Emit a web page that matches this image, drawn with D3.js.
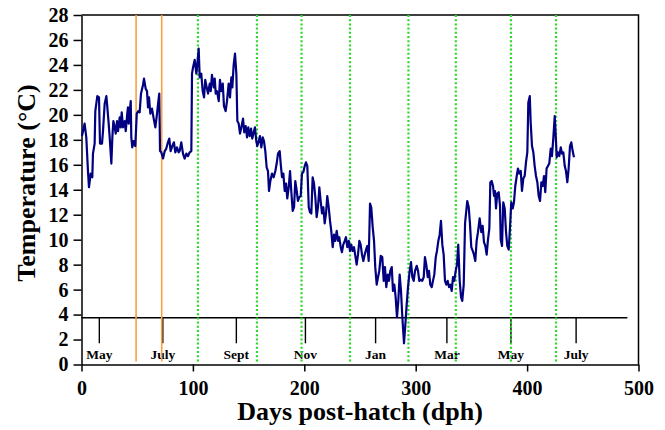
<!DOCTYPE html>
<html lang="en">

<head>
	<meta charset="utf-8">
	<style>
		body {
			margin: 0;
			background-color: white;
		}

		svg {
			font-family: 'Liberation Serif', 'Times New Roman', serif;
			font-weight: bold;
		}

		.axis path,
		.axis line {
			stroke: black;
			stroke-width: 1.5px;
		}

		.axis text {
			font-size: 20px;
			font-weight: bold;
			font-family: 'Liberation Serif', serif;
			fill: black;
		}

		.temp-line {
			fill: none;
			stroke: #000080;
			stroke-width: 2.2px;
			stroke-linejoin: round;
		}

		.orange-line {
			stroke: #f7a040;
			stroke-width: 1.6px;
		}

		.green-line {
			stroke: #2ad82a;
			stroke-width: 2.2px;
			stroke-dasharray: 2, 2.2;
		}

		.month-line {
			stroke: black;
			stroke-width: 1.4px;
		}

		.month-label {
			font-size: 13.5px;
		}

		.axis-title {
			font-size: 26px;
		}
	</style>
</head>

<body>
	<svg width=665 height=430></svg>
	<script src="https://d3js.org/d3.v7.min.js"></script>
	<script>
		// daily temperature
		const days = [
			0.4, 2.8, 4.3, 5.8, 6.7, 8.2, 9.7, 10.3, 11.8, 12.4, 14.2, 15.7, 16.6, 18.4, 19.3, 20.8, 22.3, 23.2, 24.4, 25.3,
			26.8, 27.7, 28.6, 29.8, 30.7, 31.9, 32.8, 34.3, 35.2, 36.1, 37.3, 38.8, 39.7, 41.1, 41.7, 42.4, 43.3, 44.2, 44.7, 45.6,
			46.8, 48.3, 49.6, 51, 52.2, 53.4, 55.2, 56.1, 57.6, 58.8, 59.7, 60.6, 61.8, 63.3, 64.8, 66.3, 67.8, 69, 69.8, 70.5,
			71.6, 73.2, 74.7, 76.1, 77.6, 78.8, 80, 81.5, 83, 84.2, 85.7, 87.2,
			88.1, 89.6, 91.1, 92.6, 94.1, 95.6, 97.1, 98.6, 99.2, 100.1, 101.6, 103.1, 104, 105.2, 106.1, 107.5, 108.8, 110,
			111.1, 112.4, 113.6, 115.1, 116, 117.1, 118.7, 119.6, 120.5, 121.6, 123.2, 124.3, 125.5, 126.8, 127.9, 129.4, 130.6, 132.1,
			133.3, 134.5, 135.4, 136.6, 137.8, 139, 139.9, 141.1, 142.3, 143.5, 145, 146.1, 147.4, 148.6, 149.7, 151, 152.2, 153.3,
			154.6, 155.7, 156.9, 157.8, 159.1, 160.2, 161.4, 162.7, 163.8, 165, 166.2, 167.4, 168.3, 169.5, 171, 172.5, 174, 175.2,
			176.4, 177.9,
			178.8, 180, 181.2, 182.4, 183.6, 184.7, 186, 187.2, 188.3, 189.6, 190.8, 191.9, 193.2, 194.3, 195.5, 196.8, 197.9, 199.1,
			200.4, 201.5, 202.7, 204, 205.1, 206.3, 207.5, 208.7, 209.9, 211.1, 212.3, 213.5, 214.7, 215.9, 217.1, 218.3, 219.5, 220.6,
			221.9, 223.1, 224.2, 225.5, 226.7, 227.8, 229.1, 230.3, 231.4, 232.7, 233.8, 235, 236.3, 237.4, 238.6, 239.9, 241, 242.2,
			243.4, 244.6, 245.8, 247, 248.2, 249.4, 250.6, 251.8, 253, 254.2, 255.4, 256.6, 257.8, 259, 260.1, 261.4, 262.6, 263.7, 265,
			266.2, 267.3, 268.6, 270, 271.3, 272.4, 273.6, 274.9, 276, 277.2, 278.5, 279.6, 280.8, 282, 283.2, 284.4, 285.6, 286.8,
			288, 289.5, 290.7, 291.9, 293.1, 294.6, 295.8, 297, 298.2, 299.4, 300.9, 302.1, 303.2, 304.5, 305.9, 307.2, 308.3, 309.5,
			310.8, 311.9, 313.1, 314.4, 315.5, 316.7, 318, 319.1, 320.3, 321.5, 322.7, 323.9, 325.1, 326.3, 327.5, 328.7, 329.9, 331.1,
			332.3, 333.5, 334.6, 335.9, 337.1, 338.2, 339.5, 340.7, 341.8, 343.1, 344.3, 345.4, 346.3, 347.6, 348.7, 349.9, 351.2, 352.3,
			353.5, 354.7,
			355.9, 357.4, 358.9, 360.1, 361.3, 362.5, 363.7, 364.9, 366.1, 367, 368.2, 369.4, 370.3, 371.2, 372.1, 373.2, 374.5, 375.7,
			376.3, 377.5, 378.6, 379.9, 381.1, 382.2, 383.5, 384.6, 385.8, 387.1, 388.2, 389.4, 390.7, 391.8, 393, 394.3, 395.4, 396.6,
			397.8, 399, 400.2, 401.1, 402.4, 403.2, 404.4, 405.6, 406.8, 408, 409.2, 410.4, 411.6, 412.8, 414, 415.2, 416.3, 417.5,
			418.7, 419.9, 421.2, 422.3, 423.5, 424.8, 425.7, 426.6, 427.7, 428.9, 430.2, 431.3, 432.5, 433.8, 434.9, 436.1, 437.3, 438.5,
			439.7, 440.9, 442.1
		]
		const temps = [
			18.3, 19.3, 18.2, 15.5, 14.2, 15.3, 15.0, 16.9, 17.7, 20.3, 21.5, 21.4, 17.7, 17.7, 18.7, 20.9, 21.5, 20.6, 19.3, 18.2,
			16.1, 18.2, 19.5, 19.0, 18.5, 19.5, 18.7, 19.8, 19.0, 20.2, 19.0, 19.5, 18.7, 20.1, 20.6, 19.3, 20.3, 21.1, 18.2, 17.4,
			17.9, 17.5, 20.1, 20.3, 20.2, 21.7, 22.4, 22.9, 22.1, 21.9, 20.6, 21.4, 20.1, 20.5, 19.7, 19.0, 20.1, 21.1, 21.7, 17.1,
			17.0, 16.5, 17.1, 17.3, 17.8, 18.1, 17.1, 17.5, 17.8, 17.0, 17.4, 17.0,
			17.1, 17.8, 16.9, 16.5, 16.9, 16.7, 17.0, 17.1, 23.3, 23.8, 24.4, 23.3, 24.1, 25.3, 23.0, 23.3, 21.9, 21.4,
			22.8, 22.2, 21.7, 22.5, 21.9, 23.2, 22.2, 22.9, 21.7, 21.9, 21.1, 22.8, 21.9, 22.5, 20.7, 20.3, 21.1, 22.5,
			21.4, 23.0, 22.2, 24.0, 24.9, 23.3, 19.5, 19.3, 18.5, 19.0, 19.7, 18.6, 19.1, 18.2, 19.0, 18.3, 18.9, 18.1,
			18.6, 19.0, 17.9, 17.5, 17.9, 18.3, 17.4, 18.2, 17.9, 17.1, 15.8, 15.5, 13.9, 14.7, 15.3, 15.0, 15.5, 16.1,
			16.9, 17.1,
			16.1, 15.0, 15.3, 13.9, 14.5, 13.3, 14.2, 15.5, 13.9, 12.3, 12.6, 14.7, 13.9, 13.1, 13.4, 13.5, 15.3, 15.4,
			15.9, 16.2, 15.9, 12.6, 12.2, 12.1, 15.0, 14.5, 13.4, 11.8, 12.6, 14.2, 13.1, 12.1, 12.6, 11.3, 12.1, 13.5,
			12.6, 11.5, 10.7, 9.4, 10.4, 9.9, 10.7, 9.9, 10.2, 9.4, 9.0, 9.6, 9.9, 10.2, 9.4, 9.9, 9.1, 9.6,
			9.1, 9.4, 8.7, 8.0, 8.8, 9.9, 9.6, 8.8, 8.3, 8.8, 9.2, 9.5, 8.3, 12.9, 12.6, 11.0, 9.9, 7.8, 6.4,
			7.0, 7.5, 8.7, 8.6, 6.7, 7.8, 6.2, 7.2, 6.7, 7.5, 7.8, 5.9, 6.4, 5.4, 3.8, 5.1, 7.2, 5.9,
			3.8, 1.7, 3.2, 4.8, 6.2, 7.5, 8.2, 7.0, 6.7, 7.5, 7.9, 7.5, 6.7, 6.8, 6.7, 7.0, 8.6, 8.0,
			7.0, 7.5, 6.4, 6.2, 6.7, 7.2, 8.6, 9.1, 9.9, 10.4, 11.5, 9.6, 8.8, 6.7, 6.4, 6.7, 6.2, 6.4,
			5.9, 7.0, 6.7, 7.5, 8.0, 9.6, 6.7, 5.4, 5.1, 6.4, 11.3, 12.3, 13.1, 12.6, 11.3, 9.4, 9.1, 8.8,
			8.3, 9.9,
			10.6, 11.7, 10.6, 11.1, 9.8, 9.5, 8.8, 10.0, 10.9, 14.6, 14.7, 14.3, 13.5, 13.9, 12.5, 13.7, 13.8, 12.7,
			10.0, 9.5, 13.0, 12.5, 10.6, 9.5, 9.2, 10.9, 13.0, 12.5, 13.0, 14.3, 15.1, 15.7, 15.3, 15.5, 13.9, 14.9,
			15.1, 16.2, 17.0, 21.0, 21.5, 19.4, 17.5, 17.0, 15.9, 15.1, 14.6, 13.5, 13.1, 14.6, 14.3, 15.1, 13.8, 15.7,
			15.9, 16.1, 17.3, 16.7, 18.1, 19.9, 18.3, 16.6, 17.0, 16.7, 17.4, 16.9, 17.0, 15.9, 15.5, 14.6, 15.7, 17.5,
			17.8, 17.1, 16.6
		]

		// vertical markers and month strip
		const orangeDays = [49, 72]
		const greenDays = [104.5, 157.5, 197.5, 241, 293.5, 336, 385.5, 426]
		const monthNames = ["May", "July", "Sept", "Nov", "Jan", "Mar", "May", "July"]
		const monthDays = [16, 73, 139, 201, 264, 328, 385.5, 444]
		const stripLevel = 3.75
		const stripTickBottom = 1.7
		const stripEndDay = 490

		const xTicks = [0, 100, 200, 300, 400, 500]
		const yTicks = d3.range(0, 29, 2)

		const margin = { top: 15, bottom: 66, left: 81.5, right: 26.5 }
		const width = 665
		const height = 430

		const x = d3.scaleLinear().domain([0, 500]).range([margin.left, width - margin.right])
		const y = d3.scaleLinear().domain([0, 28]).range([height - margin.bottom + 0.5, margin.top])

		const svg = d3.select("svg")
		const data = days.map((d, i) => ({ day: d, temp: temps[i] }))

		// frame: top and right sides
		svg.append("path")
			.attr("d", `M${x(0)},${y(28)}H${x(500)}V${y(0)}`)
			.attr("fill", "none")
			.attr("stroke", "black")
			.attr("stroke-width", 1.5)

		svg.append("g")
			.attr("class", "axis axis-x")
			.attr("transform", "translate(0," + y(0) + ")")
			.call(d3.axisBottom(x).tickValues(xTicks).tickSize(7).tickPadding(9).tickSizeOuter(0))

		svg.append("g")
			.attr("class", "axis axis-y")
			.attr("transform", "translate(" + x(0) + ",0)")
			.call(d3.axisLeft(y).tickValues(yTicks).tickSize(8).tickPadding(5).tickSizeOuter(0))

		// month strip
		svg.append("line")
			.attr("class", "month-line")
			.attr("x1", x(0)).attr("x2", x(stripEndDay))
			.attr("y1", y(stripLevel)).attr("y2", y(stripLevel))

		svg.append("g").selectAll("line")
			.data(monthDays)
			.join("line")
			.attr("class", "month-line")
			.attr("x1", d => x(d)).attr("x2", d => x(d))
			.attr("y1", y(stripLevel)).attr("y2", y(stripTickBottom))

		svg.append("g").selectAll("text")
			.data(monthNames)
			.join("text")
			.attr("class", "month-label")
			.attr("x", (d, i) => x(monthDays[i]))
			.attr("y", y(0) - 6)
			.attr("text-anchor", "middle")
			.text(d => d)

		// marker lines
		svg.append("g").selectAll("line")
			.data(orangeDays)
			.join("line")
			.attr("class", "orange-line")
			.attr("x1", d => x(d)).attr("x2", d => x(d))
			.attr("y1", y(28)).attr("y2", y(0.25))

		svg.append("g").selectAll("line")
			.data(greenDays)
			.join("line")
			.attr("class", "green-line")
			.attr("x1", d => x(d)).attr("x2", d => x(d))
			.attr("y1", y(28)).attr("y2", y(0.2))

		const drawLine = d3.line()
			.x(d => x(d.day))
			.y(d => y(d.temp))

		svg.append("path")
			.datum(data)
			.attr("class", "temp-line")
			.attr("d", drawLine)

		// axis titles
		svg.append("text")
			.attr("class", "axis-title")
			.attr("x", (x(0) + x(500)) / 2)
			.attr("y", 420)
			.attr("text-anchor", "middle")
			.text("Days post-hatch (dph)")

		svg.append("text")
			.attr("class", "axis-title")
			.attr("transform", "translate(35,183) rotate(-90)")
			.attr("text-anchor", "middle")
			.text("Temperature (°C)")
	</script>
</body>

</html>
